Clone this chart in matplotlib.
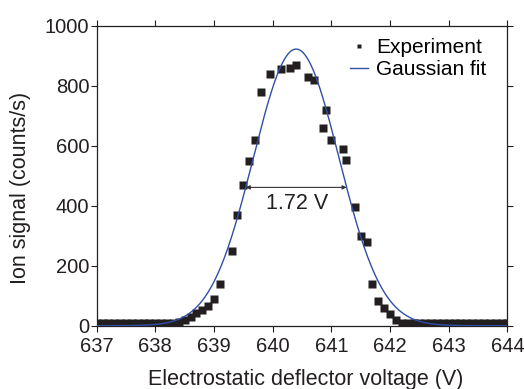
import numpy as np
import matplotlib.pyplot as plt

plt.rcParams['font.family'] = ['Liberation Sans', 'DejaVu Sans']

# measured points (V, counts/s)
voltage = [637.0, 637.1, 637.2, 637.3, 637.4, 637.5, 637.6, 637.7, 637.8, 637.9,
           638.0, 638.1, 638.2, 638.3, 638.4,
           638.5, 638.6, 638.7, 638.8, 638.9, 639.0, 639.1, 639.3, 639.4, 639.5,
           639.6, 639.7, 639.8, 639.95, 640.15, 640.3, 640.4, 640.6, 640.7, 640.85,
           640.9, 641.0, 641.2, 641.25, 641.4, 641.5, 641.6, 641.7, 641.8, 641.9,
           642.0, 642.1,
           642.2, 642.3, 642.4, 642.5, 642.6, 642.7, 642.8, 642.9, 643.0, 643.1,
           643.2, 643.3, 643.4, 643.5, 643.6, 643.7, 643.8, 643.9, 644.0]
signal = [10, 10, 10, 10, 10, 10, 10, 10, 10, 10,
          10, 10, 10, 10, 12,
          20, 30, 41, 51, 66, 90, 139, 250, 369, 469,
          549, 619, 780, 840, 854, 860, 869, 829, 818, 659,
          719, 619, 590, 553, 397, 299, 279, 139, 83, 60,
          39, 19,
          10, 10, 10, 10, 10, 10, 10, 10, 10, 10,
          10, 10, 10, 10, 10, 10, 10, 10, 10]

# gaussian fit parameters
x0 = 640.40
amp = 922
fwhm = 1.72

sigma = fwhm / (2 * np.sqrt(2 * np.log(2)))
xf = np.linspace(637, 644, 600)
yf = amp * np.exp(-(xf - x0) ** 2 / (2 * sigma ** 2))

ink = '#231f20'

fig = plt.figure(figsize=(5.24, 3.89), dpi=100)
ax = fig.add_axes([0.1845, 0.1627, 0.7838, 0.7713])

ax.plot(voltage, signal, 's', color=ink, markersize=5.2, mec='none',
        label='Experiment', zorder=2)
ax.plot(xf, yf, '-', color='#2f4fa8', lw=1.0, label='Gaussian fit', zorder=3)

# FWHM arrow
ax.annotate('', xy=(x0 - fwhm / 2, amp / 2), xytext=(x0 + fwhm / 2, amp / 2),
            arrowprops=dict(arrowstyle='<|-|>', color='#333333', lw=0.8,
                            mutation_scale=6, shrinkA=0, shrinkB=0))
ax.text(x0 + 0.02, 408, '%.2f V' % fwhm, ha='center', va='center', fontsize=15.5,
        color=ink)

ax.set_xlim(637, 644)
ax.set_ylim(0, 1000)
ax.set_xticks(np.arange(637, 645, 1))
ax.set_yticks(np.arange(0, 1001, 200))
ax.tick_params(direction='out', length=4.3, width=0.8, labelsize=14.5,
               colors=ink, top=True, right=True)
ax.tick_params(axis='x', pad=4)
ax.tick_params(axis='y', pad=1)
for s in ax.spines.values():
    s.set_color(ink)
    s.set_linewidth(0.9)

ax.set_xlabel('Electrostatic deflector voltage (V)', fontsize=15.5, color=ink)
ax.set_ylabel('Ion signal (counts/s)', fontsize=15.5, color=ink)
ax.xaxis.set_label_coords(0.51, -0.145)
ax.yaxis.set_label_coords(-0.16, 0.459)

ax.legend(loc='upper left', bbox_to_anchor=(350 / 524, 1 - 38 / 389),
          bbox_transform=fig.transFigure, frameon=False, fontsize=15,
          markerscale=0.5, handlelength=0.87, handletextpad=0.38,
          labelspacing=0.15, borderpad=0, borderaxespad=0)

plt.savefig('out.png', dpi=100)
